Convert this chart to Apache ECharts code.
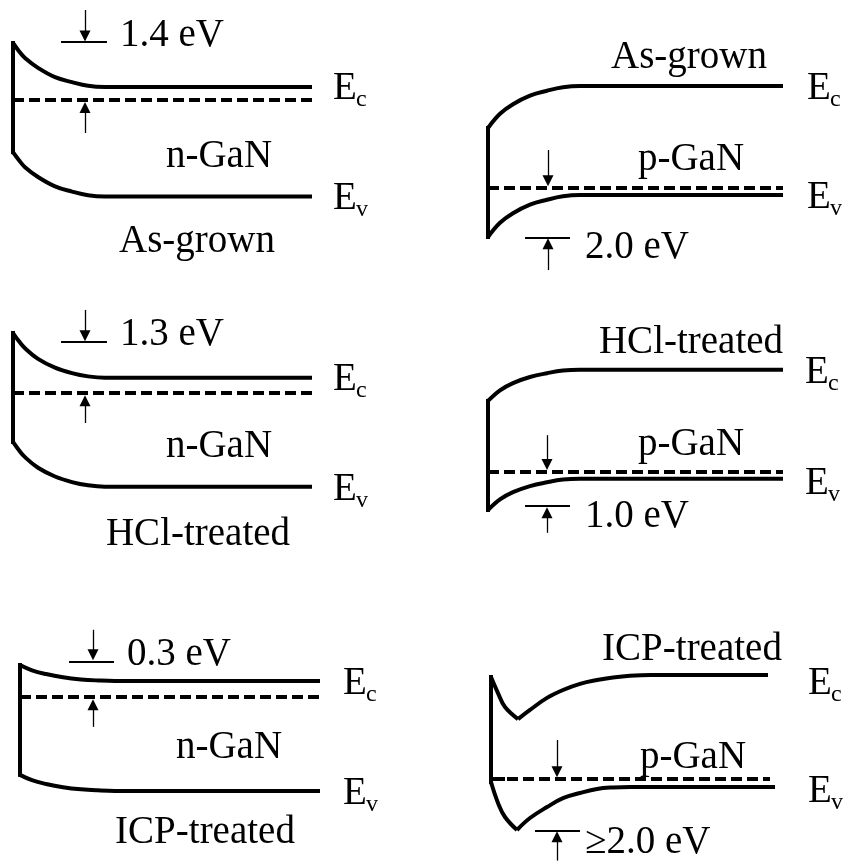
<!DOCTYPE html>
<html>
<head>
<meta charset="utf-8">
<script src="https://cdn.jsdelivr.net/npm/echarts@6/dist/echarts.min.js"></script>
<style>
html, body { margin: 0; padding: 0; background: #fff; }
#chart { width: 848px; height: 861px; }
</style>
</head>
<body>
<div id="chart"></div>
<script>
// Surface barrier heights in eV (n-GaN: Ec - Ef at the surface, p-GaN: Ef - Ev at the surface)
const treatments = ['As-grown', 'HCl-treated', 'ICP-treated'];
const nBarrier = [1.4, 1.3, 0.3];
const pBarrier = [2.0, 1.0, 2.0];
const pBarrierPrefix = ['', '', '\u2265'];

// Band edges: [depth from surface, energy relative to Ef (eV)]
const nAsGrownEc = [[0, 1.40], [6, 1.20], [12, 1.03], [25, 0.79], [42, 0.56], [59, 0.44], [75, 0.35], [92, 0.32], [299, 0.32]];
const nAsGrownEv = [[0, -1.28], [6, -1.48], [12, -1.65], [25, -1.89], [42, -2.12], [59, -2.25], [75, -2.34], [92, -2.37], [299, -2.37]];
const nHClEc = [[0, 1.30], [6, 1.12], [12, 0.97], [25, 0.74], [42, 0.55], [59, 0.43], [75, 0.36], [92, 0.33], [299, 0.33]];
const nHClEv = [[0, -1.06], [6, -1.24], [12, -1.39], [25, -1.62], [42, -1.81], [59, -1.93], [75, -2.00], [92, -2.03], [299, -2.03]];
const nICPEc = [[0, 0.30], [12, 0.25], [26, 0.215], [43, 0.185], [61, 0.165], [78, 0.155], [95, 0.15], [300, 0.15]];
const nICPEv = [[0, -0.73], [12, -0.78], [26, -0.815], [43, -0.845], [61, -0.865], [78, -0.875], [95, -0.88], [300, -0.88]];

const pAsGrownEc = [[0, 2.45], [12, 3.03], [25, 3.42], [42, 3.77], [59, 3.97], [75, 4.11], [92, 4.16], [295, 4.16]];
const pAsGrownEv = [[0, -2.00], [12, -1.42], [25, -1.03], [42, -0.68], [59, -0.48], [75, -0.34], [92, -0.29], [295, -0.29]];
const pHClEc = [[0, 1.87], [12, 2.15], [25, 2.34], [42, 2.50], [59, 2.60], [75, 2.67], [92, 2.69], [295, 2.69]];
const pHClEv = [[0, -1.00], [12, -0.72], [25, -0.53], [42, -0.37], [59, -0.27], [75, -0.20], [92, -0.18], [295, -0.18]];
// ICP-treated p-GaN: bands dip to a minimum just below the surface (two branches meet at the cusp)
const pICPEcNearSurface = [[0, 4.00], [7, 3.37], [14, 2.82], [27, 2.35]];
const pICPEcBulkSide = [[27, 2.35], [39, 2.71], [56, 3.18], [72, 3.49], [89, 3.73], [106, 3.88], [122, 3.98], [139, 4.05], [160, 4.08], [277, 4.08]];
const pICPEvNearSurface = [[0, -0.12], [7, -0.94], [14, -1.49], [26, -2.00]];
const pICPEvBulkSide = [[26, -2.00], [39, -1.53], [56, -1.10], [72, -0.75], [89, -0.55], [106, -0.39], [122, -0.33], [139, -0.31], [284, -0.31]];

// Fermi level extent (depth) for each diagram
const efExtent = [299, 299, 300, 295, 295, 279];

const diagrams = [
  { ec: [nAsGrownEc], ev: [nAsGrownEv] },
  { ec: [nHClEc], ev: [nHClEv] },
  { ec: [nICPEc], ev: [nICPEv] },
  { ec: [pAsGrownEc], ev: [pAsGrownEv] },
  { ec: [pHClEc], ev: [pHClEv] },
  { ec: [pICPEcNearSurface, pICPEcBulkSide], ev: [pICPEvNearSurface, pICPEvBulkSide] }
];

// Placement of each diagram: surface x, Fermi-level y, pixels per eV, row box
const rows = [[0, 285], [285, 290], [575, 286]];
const layout = [
  { left: 13, efY: 100, k: 40.71, row: 0 },
  { left: 13, efY: 393, k: 46.15, row: 1 },
  { left: 20, efY: 697, k: 106.7, row: 2 },
  { left: 488, efY: 188, k: 24.5, row: 0 },
  { left: 488, efY: 472, k: 38, row: 1 },
  { left: 491, efY: 779, k: 25.5, row: 2 }
];

// Arrow / bar annotations marking the barrier, in diagram coordinates:
// arrows are [depth, tail, tip], bars are [level, from depth, to depth]
const marks = [
  { down: [72, 2.21, 1.44], bar: [1.42, 48, 94], up: [72, -0.81, -0.05] },
  { down: [72, 1.80, 1.12], bar: [1.10, 48, 94], up: [72, -0.65, -0.05] },
  { down: [73, 0.63, 0.345], bar: [0.33, 49, 94], up: [73, -0.28, -0.02] },
  { down: [60, 1.55, 0.07], bar: [-2.02, 37, 82], up: [60, -3.35, -2.05] },
  { down: [59, 0.97, 0.05], bar: [-0.90, 37, 82], up: [59, -1.60, -0.93] },
  { down: [66, 1.53, 0.07], bar: [-2.02, 44, 89], up: [66, -3.20, -2.05] }
];

const grids = [], xAxes = [], yAxes = [], series = [];
const black = '#000';
const GRID_W = 340;
const HEAD = 11; // arrowhead size in px

layout.forEach((L, i) => {
  const top = rows[L.row][0], h = rows[L.row][1];
  grids.push({ left: L.left, top: top, width: GRID_W, height: h, containLabel: false, outerBoundsMode: 'none' });
  xAxes.push({ type: 'value', gridIndex: i, min: 0, max: GRID_W, show: false });
  yAxes.push({ type: 'value', gridIndex: i, min: (L.efY - top - h) / L.k, max: (L.efY - top) / L.k, show: false });

  const d = diagrams[i];
  const base = { xAxisIndex: i, yAxisIndex: i, silent: true, animation: false, clip: false };
  const band = Object.assign({}, base, {
    type: 'line', symbol: 'none', showSymbol: false, smooth: 0.4,
    lineStyle: { color: black, width: 4 }
  });
  d.ec.concat(d.ev).forEach(seg => series.push(Object.assign({}, band, { data: seg })));

  // surface: vertical edge joining Ec and Ev
  const ec0 = d.ec[0][0][1];
  const ev0 = d.ev[0][0][1];
  series.push(Object.assign({}, band, { smooth: false, data: [[0, ec0], [0, ev0]], lineStyle: { color: black, width: 4, cap: 'square' } }));

  // Fermi level
  series.push(Object.assign({}, base, {
    type: 'line', symbol: 'none', showSymbol: false,
    data: [[0, 0], [efExtent[i], 0]],
    lineStyle: { color: black, width: 4, type: [11, 5] }
  }));
  if (i === 5) {
    series.push(Object.assign({}, base, {
      type: 'line', symbol: 'none', showSymbol: false,
      data: [[0, 0], [14, 0]], lineStyle: { color: black, width: 4 }
    }));
  }

  // arrowheads are centred on the line end, so pull the end back by half a head
  const m = marks[i];
  const half = (HEAD / 2) / L.k;
  const arrow = a => {
    const dir = a[2] > a[1] ? 1 : -1;
    return { coords: [[a[0], a[1]], [a[0], a[2] - dir * half]] };
  };
  series.push(Object.assign({}, base, {
    type: 'lines', coordinateSystem: 'cartesian2d',
    symbol: ['none', 'triangle'], symbolSize: [0, HEAD],
    lineStyle: { color: black, width: 1.3, opacity: 1 },
    data: [arrow(m.down), arrow(m.up)]
  }));
  series.push(Object.assign({}, base, {
    type: 'lines', coordinateSystem: 'cartesian2d', symbol: 'none',
    lineStyle: { color: black, width: 2, opacity: 1 },
    data: [{ coords: [[m.bar[1], m.bar[0]], [m.bar[2], m.bar[0]]] }]
  }));
});

// Text annotations
const FONT = '"Liberation Serif", "Times New Roman", serif';
const big = 39, small = 24;
function txt(text, x, y, align, size) {
  return {
    type: 'text', silent: true, z: 10,
    style: {
      text: text, x: x, y: y, fill: black,
      font: size + 'px ' + FONT,
      align: align, verticalAlign: 'middle',
      textAlign: align, textVerticalAlign: 'middle'
    }
  };
}
const nText = {
  barrier: [[120, 36], [120, 335], [127, 655]],
  name: [[219, 157], [219, 447], [229, 748]],
  treat: [[197, 242], [198, 535], [205, 833]],
  eLeft: [333, 333, 343], ecY: [89, 380, 684], evY: [199, 490, 794]
};
const pText = {
  barrier: [[585, 248], [585, 517], [585, 843]],
  name: [[691, 160], [691, 445], [693, 758]],
  treat: [[689, 58], [691, 343], [692, 650]],
  eLeft: [807, 805, 808], ecY: [89, 373, 684], evY: [198, 484, 792]
};
const graphics = [];
function eLabel(x, y, sub) {
  graphics.push(txt('E', x, y, 'left', big));
  graphics.push(txt(sub, x + 23, y + 11, 'left', small));
}
for (let j = 0; j < 3; j++) {
  graphics.push(txt(nBarrier[j].toFixed(1) + ' eV', nText.barrier[j][0], nText.barrier[j][1], 'left', big));
  graphics.push(txt('n-GaN', nText.name[j][0], nText.name[j][1], 'center', big));
  graphics.push(txt(treatments[j], nText.treat[j][0], nText.treat[j][1], 'center', big));
  eLabel(nText.eLeft[j], nText.ecY[j], 'c');
  eLabel(nText.eLeft[j], nText.evY[j], 'v');

  graphics.push(txt(pBarrierPrefix[j] + pBarrier[j].toFixed(1) + ' eV', pText.barrier[j][0], pText.barrier[j][1], 'left', big));
  graphics.push(txt('p-GaN', pText.name[j][0], pText.name[j][1], 'center', big));
  graphics.push(txt(treatments[j], pText.treat[j][0], pText.treat[j][1], 'center', big));
  eLabel(pText.eLeft[j], pText.ecY[j], 'c');
  eLabel(pText.eLeft[j], pText.evY[j], 'v');
}

const chart = echarts.init(document.getElementById('chart'), null, { renderer: 'canvas' });
chart.setOption({
  backgroundColor: '#fff',
  animation: false,
  grid: grids,
  xAxis: xAxes,
  yAxis: yAxes,
  series: series,
  graphic: { elements: graphics }
});
</script>
</body>
</html>
